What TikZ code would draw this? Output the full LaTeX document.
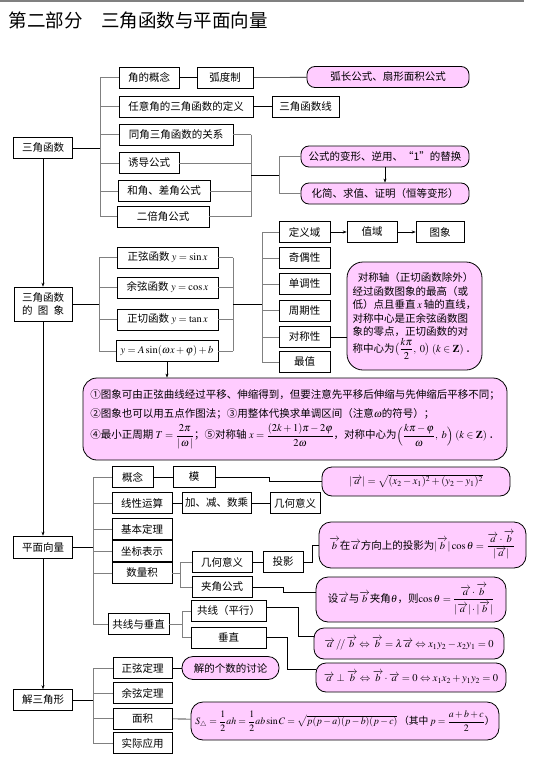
\documentclass[tikz,border=0pt]{standalone}
\usepackage{amsmath,amssymb}
\usepackage{mathptmx}
\usepackage[no-math]{fontspec}
\setmainfont{Noto Sans CJK SC}
\usepackage{xcolor}
\usetikzlibrary{arrows.meta,positioning}
\definecolor{MapPink}{HTML}{FFCCFF}
\definecolor{MapGray}{HTML}{808080}

\begin{document}
\begin{tikzpicture}[
        x=1pt,y=-1pt,
        every node/.style={font=\fontsize{10.5}{13}\selectfont,inner sep=0pt},
        box/.style={draw,line width=0.6pt,minimum height=21pt,align=center},
        pinkbox/.style={draw,line width=0.8pt,fill=MapPink,rounded corners=8pt,minimum height=21pt,align=center},
        link/.style={draw=MapGray,line width=1pt},
        wire/.style={draw,line width=0.6pt},
        arrow/.style={-{Stealth[length=4pt,width=3pt]},line width=0.6pt}
      ]
      \useasboundingbox (0,0) rectangle (541,757);
      \draw[MapGray,line width=1.5pt] (0,1) -- (524,1);
      \node[anchor=west,font=\fontsize{18.5}{20}\selectfont] (title) at (8.5,20.5) {第二部分　三角函数与平面向量};

      % 三角函数
      \node[box,minimum width=59pt] (sjhs) at (43,148) {三角函数};
      \node[box,minimum width=60pt] (jdgn) at (149,77.5) {角的概念};
      \node[box,minimum width=56pt] (hdz) at (225,77.5) {弧度制};
      \node[pinkbox,minimum width=162pt] (hcgs) at (388,77) {弧长公式、扇形面积公式};
      \node[box,minimum width=134pt] (ryj) at (186,106.5) {任意角的三角函数的定义};
      \node[box,minimum width=67pt] (hsx) at (305.5,106.5) {三角函数线};
      \node[box,minimum width=114pt] (tjgx) at (176,134.5) {同角三角函数的关系};
      \node[box,minimum width=60pt] (ydgs) at (149,163) {诱导公式};
      \node[box,minimum width=92pt] (hjgs) at (164,191) {和角、差角公式};
      \node[box,minimum width=92pt] (bjgs) at (163,216.5) {二倍角公式};
      \node[pinkbox,minimum width=168pt] (bxny) at (385,156.5) {公式的变形、逆用、“1”的替换};
      \node[pinkbox,minimum width=168pt] (hjqz) at (385,193.5) {化简、求值、证明（恒等变形）};

      \coordinate (b1) at (100,148);
      \draw[wire] (sjhs.east) -- (b1);
      \draw[link] (jdgn.west -| b1) -- (bjgs.west -| b1);
      \foreach \n in {jdgn,ryj,tjgx,ydgs,hjgs,bjgs}
        \draw[link] (\n.west -| b1) -- (\n.west);
      \coordinate (b2) at (251,175);
      \coordinate (b3) at (279,175);
      \draw[link] (tjgx.east -| b2) -- (bjgs.east -| b2);
      \foreach \n in {tjgx,ydgs,hjgs,bjgs}
        \draw[link] (\n.east) -- (\n.east -| b2);
      \draw[wire] (b2) -- (b3);
      \draw[link] (bxny.west -| b3) -- (hjqz.west -| b3);
      \draw[link] (bxny.west -| b3) -- (bxny.west);
      \draw[link] (hjqz.west -| b3) -- (hjqz.west);
      \draw[arrow] (bxny) -- (hjqz);
      \draw[wire] (jdgn) -- (hdz);
      \draw[wire] (hdz) -- (hcgs);
      \draw[wire] (ryj) -- (hsx);

      % 三角函数的图象
      \node[box,minimum width=58pt,minimum height=34pt] (sjtx) at (43,304) {三角函数\\的\hspace{0.5em}图\hspace{0.5em}象};
      \node[box,minimum width=101pt] (zxhs) at (167.5,257.5) {正弦函数 $y=\sin x$};
      \node[box,minimum width=101pt] (yxhs) at (167.5,287.5) {余弦函数 $y=\cos x$};
      \node[box,minimum width=101pt] (zqhs) at (167.5,319.5) {正切函数 $y=\tan x$};
      \node[box,minimum width=102pt] (yasin) at (167,351) {$y=A\sin(\omega x+\varphi)+b$};
      \node[box,minimum width=51pt] (dyy) at (304.5,232) {定义域};
      \node[box,minimum width=50pt] (zy) at (372,232) {值域};
      \node[box,minimum width=48pt] (tx) at (440,232) {图象};
      \node[box,minimum width=51pt] (jox) at (304.5,258) {奇偶性};
      \node[box,minimum width=51pt] (ddx) at (304.5,284) {单调性};
      \node[box,minimum width=51pt] (zqx) at (304.5,310.5) {周期性};
      \node[box,minimum width=51pt] (dcx) at (304.5,337) {对称性};
      \node[box,minimum width=51pt] (zz) at (304.5,362) {最值};
      \node[pinkbox,rounded corners=16pt,minimum width=135pt,minimum height=108pt,align=left,
        font=\fontsize{10.5}{13.5}\selectfont] (dcsm) at (414.5,316)
        {\hspace*{0.5em}对称轴（正切函数除外）\\经过函数图象的最高（或\\低）点且垂直\,$x$\,轴的直线，\\对称中心是正余弦函数图\\象的零点，正切函数的对\\称中心为$\bigl(\dfrac{k\pi}{2},\ 0\bigr)\ (k\in\mathbf{Z})$\,．};
      \node[pinkbox,rounded corners=14pt,minimum width=424pt,minimum height=82pt,align=left] (txsm) at (295,419)
        {①图象可由正弦曲线经过平移、伸缩得到，但要注意先平移后伸缩与先伸缩后平移不同；\\[6pt]
         ②图象也可以用五点作图法；③用整体代换求单调区间（注意$\omega$的符号）；\\[4pt]
         ④最小正周期 $T=\dfrac{2\pi}{|\,\omega\,|}$；⑤对称轴 $x=\dfrac{(2k+1)\pi-2\varphi}{2\omega}$，对称中心为$\Bigl(\dfrac{k\pi-\varphi}{\omega},\ b\Bigr)\ (k\in\mathbf{Z})$\,．};

      \coordinate (b4) at (99,304);
      \coordinate (b5) at (233,304);
      \coordinate (b6) at (262,304);
      \draw[wire] (sjtx.east) -- (b4);
      \draw[link] (zxhs.west -| b4) -- (yasin.west -| b4);
      \draw[link] (zxhs.east -| b5) -- (yasin.east -| b5);
      \foreach \n in {zxhs,yxhs,zqhs,yasin} {
        \draw[link] (\n.west -| b4) -- (\n.west);
        \draw[link] (\n.east) -- (\n.east -| b5);
      }
      \draw[wire] (b5) -- (b6);
      \draw[link] (dyy.west -| b6) -- (zz.west -| b6);
      \foreach \n in {dyy,jox,ddx,zqx,dcx,zz}
        \draw[link] (\n.west -| b6) -- (\n.west);
      \draw[arrow] (dyy) -- (zy);
      \draw[arrow] (zy) -- (tx);
      \draw[wire] (dcx.east) -- (dcx.east -| dcsm.west);
      \draw[arrow] (yasin.south) -- (yasin.south |- txsm.north);

      % 平面向量
      \node[box,minimum width=59pt,minimum height=22pt] (pmxl) at (43,547) {平面向量};
      \node[box,minimum width=41pt] (gn) at (132.5,477) {概念};
      \node[box,minimum width=42pt] (mo) at (194,477) {模};
      \node[pinkbox,rounded corners=10pt,minimum width=188pt,minimum height=29pt] (mopink) at (416,481.5)
        {$|\overrightarrow{a}|=\sqrt{(x_2-x_1)^2+(y_2-y_1)^2}$};
      \node[box,minimum width=60pt] (xxys) at (142,503) {线性运算};
      \node[box,minimum width=69pt] (jjsc) at (216.5,503) {加、减、数乘};
      \node[box,minimum width=50pt] (jhyy) at (295,503) {几何意义};
      \node[box,minimum width=60pt] (jbdl) at (142,529) {基本定理};
      \node[box,minimum width=60pt] (zbbs) at (142,551) {坐标表示};
      \node[box,minimum width=60pt] (slj) at (142,573) {数量积};
      \node[box,minimum width=60pt] (jhyyb) at (222,562) {几何意义};
      \node[box,minimum width=40pt] (ty) at (283,562) {投影};
      \node[pinkbox,rounded corners=12pt,minimum width=207pt,minimum height=46pt] (typink) at (422.5,545)
        {$\overrightarrow{b}$在$\overrightarrow{a}$方向上的投影为$|\overrightarrow{b}|\cos\theta=\dfrac{\overrightarrow{a}\cdot\overrightarrow{b}}{|\overrightarrow{a}|}$};
      \node[box,minimum width=60pt] (jjgs) at (222,587) {夹角公式};
      \node[pinkbox,rounded corners=12pt,minimum width=190pt,minimum height=45pt] (cospink) at (411,599.5)
        {设$\overrightarrow{a}$与$\overrightarrow{b}$夹角$\theta$，则$\cos\theta=\dfrac{\overrightarrow{a}\cdot\overrightarrow{b}}{|\overrightarrow{a}|\cdot|\overrightarrow{b}|}$};
      \node[box,minimum width=61pt] (gxcz) at (138.5,624) {共线与垂直};
      \node[box,minimum width=75pt] (gxpx) at (228.5,611) {共线（平行）};
      \node[box,minimum width=75pt] (cz) at (228.5,637.5) {垂直};
      \node[pinkbox,rounded corners=10pt,minimum width=190pt,minimum height=31pt] (pxpink) at (409,643.5)
        {$\overrightarrow{a}\,/\!/\,\overrightarrow{b}\Leftrightarrow\overrightarrow{b}=\lambda\overrightarrow{a}\Leftrightarrow x_1y_2-x_2y_1=0$};
      \node[pinkbox,rounded corners=10pt,minimum width=190pt,minimum height=29pt] (czpink) at (411,677.5)
        {$\overrightarrow{a}\perp\overrightarrow{b}\Leftrightarrow\overrightarrow{b}\cdot\overrightarrow{a}=0\Leftrightarrow x_1x_2+y_1y_2=0$};

      \coordinate (b7) at (93,547);
      \draw[wire] (pmxl.east) -- (b7);
      \draw[link] (gn.west -| b7) -- (gxcz.west -| b7);
      \foreach \n in {gn,xxys,jbdl,zbbs,slj,gxcz}
        \draw[link] (\n.west -| b7) -- (\n.west);
      \draw[wire] (gn) -- (mo);
      \draw[wire] (mo.east) -- ++(54,0) |- (mopink.west);
      \draw[wire] (xxys) -- (jjsc);
      \draw[wire] (jjsc) -- (jhyy);
      \coordinate (b8) at (180,573);
      \draw[link] (slj.east) -- (b8);
      \draw[link] (jhyyb.west -| b8) -- (jjgs.west -| b8);
      \draw[link] (jhyyb.west -| b8) -- (jhyyb.west);
      \draw[link] (jjgs.west -| b8) -- (jjgs.west);
      \draw[wire] (jhyyb) -- (ty);
      \draw[wire] (ty.east) -- ++(9,0) |- (typink.west);
      \draw[wire] (jjgs.east) -- ++(31,0) |- ([yshift=7pt]cospink.west);
      \coordinate (b9) at (182,624);
      \draw[link] (gxcz.east) -- (b9);
      \draw[link] (gxpx.west -| b9) -- (cz.west -| b9);
      \draw[link] (gxpx.west -| b9) -- (gxpx.west);
      \draw[link] (cz.west -| b9) -- (cz.west);
      \draw[wire] ([yshift=4pt]gxpx.east) -- ++(32,0) |- ([yshift=7pt]pxpink.west);
      \draw[wire] (cz.east) -- ++(21,0) |- ([yshift=8pt]czpink.west);

      % 解三角形
      \node[box,minimum width=59pt] (jsjx) at (43,700) {解三角形};
      \node[box,minimum width=59pt] (zxdl) at (142.5,668) {正弦定理};
      \node[pinkbox,rounded corners=11pt,minimum width=97pt,minimum height=23pt] (jdgs) at (230.5,668) {解的个数的讨论};
      \node[box,minimum width=59pt] (yxdl) at (142.5,693) {余弦定理};
      \node[box,minimum width=59pt] (mj) at (142.5,718.5) {面积};
      \node[box,minimum width=59pt] (sjyy) at (142.5,743) {实际应用};
      \node[pinkbox,rounded corners=12pt,minimum width=308pt,minimum height=38pt,font=\fontsize{9.8}{12}\selectfont] (spink) at (345,721)
        {$S_{\triangle}=\dfrac{1}{2}ah=\dfrac{1}{2}ab\sin C=\sqrt{p(p-a)(p-b)(p-c)}$\,（其中\,$p=\dfrac{a+b+c}{2}$）};

      \coordinate (b10) at (93,700);
      \draw[wire] (jsjx.east) -- (b10);
      \draw[link] (zxdl.west -| b10) -- (sjyy.west -| b10);
      \foreach \n in {zxdl,yxdl,mj,sjyy}
        \draw[link] (\n.west -| b10) -- (\n.west);
      \draw[wire] (zxdl) -- (jdgs);
      \draw[wire] (mj) -- (spink);

      \draw[arrow] (sjhs) -- (sjtx);
      \draw[arrow] (sjtx) -- (pmxl);
      \draw[arrow] (pmxl) -- (jsjx);
    \end{tikzpicture}
\end{document}
